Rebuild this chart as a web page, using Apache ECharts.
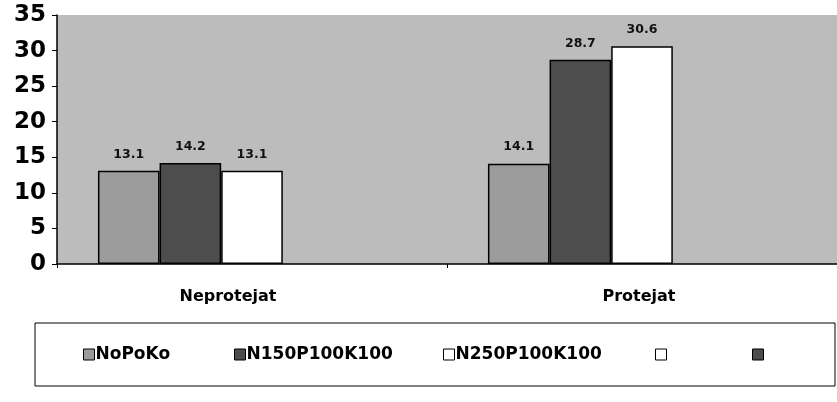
<!DOCTYPE html>
<html>
<head>
<meta charset="utf-8">
<script src="https://cdn.jsdelivr.net/npm/echarts@6/dist/echarts.min.js"></script>
<style>
  html, body { margin: 0; padding: 0; background: #ffffff; }
  #chart { width: 837px; height: 402px; }
</style>
</head>
<body>
<div id="chart"></div>
<script>
// Categories and values
const categories = ['Neprotejat', 'Protejat'];
const seriesNames = ['NoPoKo', 'N150P100K100', 'N250P100K100', ' ', '  '];
const valuesNoPoKo = [13.1, 14.1];
const valuesN150 = [14.2, 28.7];
const valuesN250 = [13.1, 30.6];
const valuesEmptyA = [];
const valuesEmptyB = [];
const yTicks = [0, 5, 10, 15, 20, 25, 30, 35];

const seriesValues = [valuesNoPoKo, valuesN150, valuesN250, valuesEmptyA, valuesEmptyB];
const seriesColors = ['#9c9c9c', '#4d4d4d', '#ffffff', '#ffffff', '#4d4d4d'];

const chart = echarts.init(document.getElementById('chart'));

const FONT = '"DejaVu Sans", Arial, sans-serif';

const series = seriesNames.map((name, i) => ({
  name: name,
  type: 'bar',
  data: seriesValues[i],
  barGap: '0%',
  barCategoryGap: '21%',
  itemStyle: { color: seriesColors[i], borderColor: '#000', borderWidth: 1.5 },
  label: {
    show: true,
    position: 'top',
    distance: 10,
    color: '#111',
    fontFamily: FONT,
    fontWeight: 'bold',
    fontSize: 12.5
  }
}));

// one legend per entry, placed along the bottom box
const legendLeft = [83, 234, 443, 655, 752];
const legends = seriesNames.map((name, i) => ({
  data: [name],
  left: legendLeft[i],
  top: 346,
  icon: 'rect',
  itemWidth: 11,
  itemHeight: 11,
  itemGap: 0,
  padding: 0,
  selectedMode: false,
  textStyle: { fontFamily: FONT, fontWeight: 'bold', fontSize: 17, color: '#000', padding: [0, 0, 0, -4] },
  itemStyle: { borderColor: '#000', borderWidth: 1 }
}));

chart.setOption({
  animation: false,
  backgroundColor: '#ffffff',
  grid: {
    left: 57, right: 0, top: 15, bottom: 138,
    show: true,
    backgroundColor: '#bcbcbc',
    borderWidth: 0
  },
  legend: legends,
  graphic: [{
    type: 'rect',
    shape: { x: 35, y: 323, width: 800, height: 63 },
    style: { fill: 'none', stroke: '#000', lineWidth: 1 }
  }],
  xAxis: {
    type: 'category',
    data: categories,
    axisLine: { lineStyle: { color: '#000', width: 1.5 } },
    axisTick: { show: true, length: 4, lineStyle: { color: '#000' } },
    axisLabel: {
      margin: 25,
      color: '#000',
      fontFamily: FONT,
      fontWeight: 'bold',
      fontSize: 16,
      formatter: (v, idx) => idx === 0 ? '{shift|' + v + '}' : '{base|' + v + '}',
      rich: {
        shift: { fontFamily: FONT, fontWeight: 'bold', fontSize: 16, padding: [0, 48, 0, 0] },
        base: { fontFamily: FONT, fontWeight: 'bold', fontSize: 16, padding: [0, 6, 0, 0] }
      }
    }
  },
  yAxis: {
    type: 'value',
    min: yTicks[0],
    max: yTicks[yTicks.length - 1],
    interval: 5,
    axisLine: { show: true, lineStyle: { color: '#000', width: 1.5 } },
    axisTick: { show: true, length: 5, lineStyle: { color: '#000' } },
    splitLine: { show: false },
    axisLabel: {
      margin: 11,
      color: '#000',
      fontFamily: FONT,
      fontWeight: 'bold',
      fontSize: 23
    }
  },
  series: series
});
</script>
</body>
</html>
